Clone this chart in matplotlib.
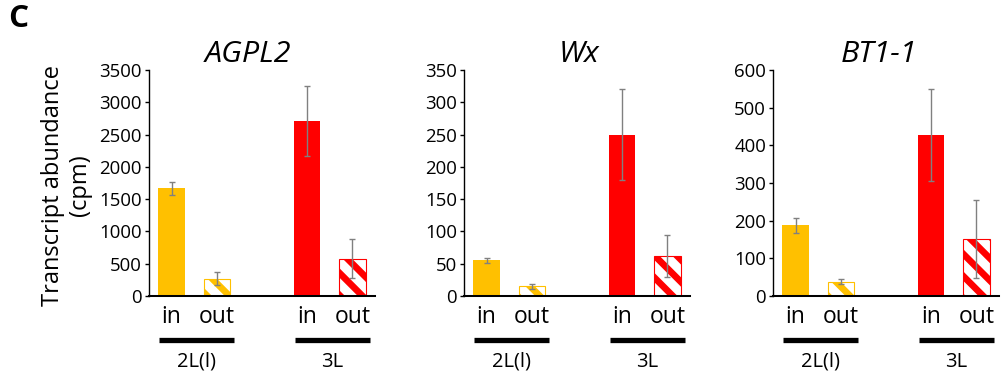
#transcript abundance of starch genes, in vs out of introgression

import matplotlib.pyplot as plt
from matplotlib.transforms import blended_transform_factory

plt.rcParams['font.family'] = ['Open Sans', 'DejaVu Sans']
plt.rcParams['hatch.linewidth'] = 3.6

genes = ['AGPL2', 'Wx', 'BT1-1']
positions = [0, 1, 3, 4]
tick_labels = ['in', 'out', 'in', 'out']
groups = ['2L(l)', '3L']

# values per gene: 2L in, 2L out, 3L in, 3L out
agpl2 = [1665, 270, 2710, 580]
agpl2_err = [95, 105, 545, 300]
wx = [55, 15, 250, 62]
wx_err = [4, 4, 71, 32]
bt1 = [188, 38, 428, 152]
bt1_err = [20, 6, 122, 103]

ymax = [3500, 350, 600]
ystep = [500, 50, 100]

yellow = '#FFC000'
red = '#FF0000'
colors = [yellow, yellow, red, red]
hatched = [False, True, False, True]

# higher dpi so the hatch stripes come out as wide as in the original
DPI = 400 / 3
fig = plt.figure(figsize=(1005 / DPI, 374 / DPI), dpi=DPI)

lefts = [149, 464, 773]
title_x = [0.44, 0.51, 0.47]
data = [(agpl2, agpl2_err), (wx, wx_err), (bt1, bt1_err)]

for i in range(3):
    ax = fig.add_axes([lefts[i] / 1005, (374 - 296) / 374, 226 / 1005, 226 / 374])
    vals, errs = data[i]
    for p, v, e, c, h in zip(positions, vals, errs, colors, hatched):
        if h:
            ax.bar(p, v, width=0.58, facecolor='white', edgecolor=c, hatch='\\\\', linewidth=0.6)
        else:
            ax.bar(p, v, width=0.58, color=c)
        ax.errorbar(p, v, yerr=e, color='#808080', ecolor='#808080', elinewidth=0.75,
                    capsize=1.5, capthick=0.75, fmt='none')
    ax.set_xlim(-0.5, 4.5)
    ax.set_ylim(0, ymax[i])
    ax.set_yticks(range(0, ymax[i] + 1, ystep[i]))
    ax.set_xticks(positions)
    ax.set_xticklabels(tick_labels, fontsize=12.4)
    ax.tick_params(axis='x', length=0, pad=5)
    ax.tick_params(axis='y', labelsize=10.1, length=2.25, width=0.75, pad=1.5)
    for s in ['top', 'right']:
        ax.spines[s].set_visible(False)
    ax.spines['left'].set_linewidth(0.75)
    ax.spines['bottom'].set_linewidth(1.1)
    ax.text(title_x[i], 1.035, genes[i], transform=ax.transAxes, fontsize=16.5,
            style='italic', ha='center', va='baseline')

    # group bars under the in/out labels
    trans = blended_transform_factory(ax.transData, ax.transAxes)
    for g, start in zip(groups, [0, 3]):
        ax.plot([start - 0.28, start + 1.38], [-0.195, -0.195], color='black',
                linewidth=2.85, transform=trans, clip_on=False, solid_capstyle='butt')
        ax.text(start + 0.55, -0.29, g, transform=trans, fontsize=10.9,
                ha='center', va='center')

fig.text(0.066, 0.505, 'Transcript abundance\n(cpm)', rotation=90, fontsize=12.8,
         ha='center', va='center', multialignment='center')
fig.text(0.008, 0.99, 'C', fontsize=17, fontweight='bold', ha='left', va='top')

plt.savefig('out.png', dpi=DPI)
